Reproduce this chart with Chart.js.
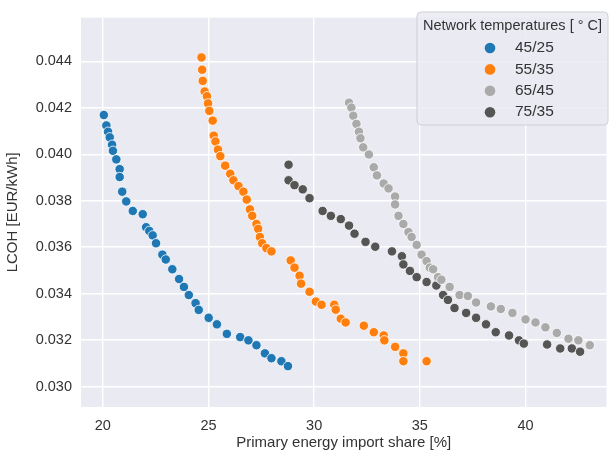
<!DOCTYPE html>
<html>
<head>
<meta charset="utf-8">
<script src="https://cdn.jsdelivr.net/npm/chart.js@4"></script>
<style>
  html, body { margin: 0; padding: 0; background: #fff; }
  #wrap { width: 612px; height: 455px; position: relative; }
</style>
</head>
<body>
<div id="wrap"><canvas id="chart"></canvas></div>
<script>
// series names (legend)
const seriesLabels = ["45/25", "55/35", "65/45", "75/35"];
const seriesColors = ["#1f77b4", "#ff7f0e", "#aaaaaa", "#555555"];

// primary energy import share [%] and LCOH [EUR/kWh]
const share_45_25 = [20.05, 20.17, 20.25, 20.33, 20.44, 20.48, 20.64, 20.80, 20.80, 20.92, 21.11, 21.42, 21.89, 22.05, 22.2, 22.36, 22.52, 22.82, 22.98, 23.29, 23.61, 23.84, 24.07, 24.39, 24.54, 25.01, 25.40, 25.87, 26.50, 26.89, 27.27, 27.67, 27.98, 28.45, 28.76];
const lcoh_45_25 = [0.04169, 0.04124, 0.04097, 0.04073, 0.04041, 0.04015, 0.03978, 0.03936, 0.03902, 0.03839, 0.03797, 0.03756, 0.03742, 0.03686, 0.0367, 0.03651, 0.03617, 0.03568, 0.03547, 0.03505, 0.03463, 0.03429, 0.03394, 0.03359, 0.03330, 0.03296, 0.03268, 0.03227, 0.03213, 0.03199, 0.03178, 0.03143, 0.03122, 0.03109, 0.03088];

const share_55_35 = [24.67, 24.70, 24.73, 24.82, 24.93, 24.98, 25.04, 25.20, 25.25, 25.33, 25.45, 25.56, 25.79, 26.03, 26.18, 26.42, 26.65, 26.81, 26.96, 27.07, 27.27, 27.35, 27.43, 27.54, 27.74, 27.98, 28.89, 29.07, 29.31, 29.38, 29.78, 30.08, 30.35, 30.95, 31.02, 31.26, 31.49, 32.35, 32.82, 33.29, 33.32, 33.83, 34.22, 34.22, 35.32];
const lcoh_55_35 = [0.04417, 0.04364, 0.04316, 0.04270, 0.04250, 0.04219, 0.04187, 0.04145, 0.04080, 0.04055, 0.04020, 0.03992, 0.03951, 0.03916, 0.03888, 0.03863, 0.03839, 0.03805, 0.03763, 0.03735, 0.03700, 0.03679, 0.03644, 0.03617, 0.03596, 0.03582, 0.03543, 0.03512, 0.03477, 0.03443, 0.03408, 0.03366, 0.03352, 0.03352, 0.03331, 0.03292, 0.03276, 0.03262, 0.03234, 0.03220, 0.03199, 0.03171, 0.03143, 0.03109, 0.03109];

const share_65_45 = [31.65, 31.76, 31.85, 32.00, 32.12, 32.19, 32.32, 32.59, 32.82, 32.97, 33.29, 33.52, 33.83, 33.83, 33.99, 34.22, 34.46, 34.61, 34.85, 35.08, 35.32, 35.47, 35.63, 35.86, 36.02, 36.41, 36.88, 37.27, 37.66, 38.36, 38.83, 39.38, 40.00, 40.47, 40.94, 41.48, 42.03, 42.50, 43.04];
const lcoh_65_45 = [0.04222, 0.04201, 0.04166, 0.04131, 0.04097, 0.04069, 0.04030, 0.03999, 0.03944, 0.03909, 0.03874, 0.03853, 0.03818, 0.03784, 0.03735, 0.03700, 0.03665, 0.03644, 0.03610, 0.03568, 0.03540, 0.03512, 0.03505, 0.03471, 0.03460, 0.03429, 0.03394, 0.03390, 0.03362, 0.03345, 0.03334, 0.03317, 0.03289, 0.03276, 0.03255, 0.03231, 0.03206, 0.03199, 0.03178];

const share_75_35 = [28.79, 28.79, 29.07, 29.46, 29.78, 30.40, 30.79, 31.26, 31.65, 31.91, 32.43, 32.89, 33.68, 34.15, 34.22, 34.53, 34.85, 35.32, 35.78, 36.10, 36.33, 36.64, 37.19, 37.66, 38.13, 38.59, 39.22, 39.69, 39.92, 41.02, 41.64, 42.19, 42.58];
const lcoh_75_35 = [0.03955, 0.03888, 0.03867, 0.03849, 0.03811, 0.03756, 0.03735, 0.03721, 0.03693, 0.03658, 0.03623, 0.03602, 0.03582, 0.03561, 0.03526, 0.03498, 0.03471, 0.03450, 0.03435, 0.03394, 0.03373, 0.03338, 0.03317, 0.03296, 0.03268, 0.03234, 0.03220, 0.03199, 0.03185, 0.03181, 0.03164, 0.03164, 0.03150];

// axis ticks
const xTicks = [20, 25, 30, 35, 40];
const yTicks = [0.030, 0.032, 0.034, 0.036, 0.038, 0.040, 0.042, 0.044];

const seriesX = [share_45_25, share_55_35, share_65_45, share_75_35];
const seriesY = [lcoh_45_25, lcoh_55_35, lcoh_65_45, lcoh_75_35];

const datasets = seriesLabels.map((label, i) => ({
  label,
  data: seriesX[i].map((x, j) => ({ x, y: seriesY[i][j] })),
  backgroundColor: seriesColors[i],
  borderColor: "#ffffff",
  borderWidth: 0.8,
  pointRadius: 4.7,
}));

const FONT = "'Liberation Sans', Arial, sans-serif";
const TEXT = "#333333";

// grey seaborn-style plot background
const plotBg = {
  id: "plotBg",
  beforeDraw(chart) {
    const { ctx, chartArea: a } = chart;
    ctx.save();
    ctx.fillStyle = "#eaeaf2";
    ctx.fillRect(a.left, a.top, a.right - a.left, a.bottom - a.top);
    ctx.restore();
  },
};

// legend in the upper right corner, inside the plot
const cornerLegend = {
  id: "cornerLegend",
  afterDraw(chart) {
    const { ctx } = chart;
    const x0 = 417, y0 = 12, w = 191, h = 113;
    ctx.save();
    ctx.beginPath();
    ctx.roundRect(x0, y0, w, h, 4);
    ctx.fillStyle = "rgba(234,234,242,0.85)";
    ctx.fill();
    ctx.strokeStyle = "#cfcfd6";
    ctx.lineWidth = 1;
    ctx.stroke();

    ctx.fillStyle = TEXT;
    ctx.font = "14.5px " + FONT;
    ctx.textAlign = "center";
    ctx.textBaseline = "middle";
    ctx.fillText("Network temperatures [ \u00b0 C]", x0 + w / 2, 26);

    chart.data.datasets.forEach((ds, i) => {
      const cy = 48 + i * 21.4;
      ctx.beginPath();
      ctx.arc(490, cy, 5.3, 0, Math.PI * 2);
      ctx.fillStyle = ds.backgroundColor;
      ctx.fill();
      ctx.fillStyle = TEXT;
      ctx.textAlign = "left";
      ctx.font = "15.5px " + FONT;
      ctx.fillText(ds.label, 515, cy);
    });
    ctx.restore();
  },
};

new Chart(document.getElementById("chart"), {
  type: "scatter",
  data: { datasets },
  options: {
    responsive: true,
    maintainAspectRatio: false,
    animation: false,
    layout: { padding: { top: 6, right: 1, left: 0, bottom: 0 } },
    plugins: {
      legend: { display: false },
      tooltip: { enabled: false },
    },
    scales: {
      x: {
        type: "linear",
        min: 18.97,
        max: 43.83,
        afterBuildTicks: (s) => { s.ticks = xTicks.map((v) => ({ value: v })); },
        afterFit: (s) => { s.height = 48; },
        grid: { color: "#ffffff", lineWidth: 1.4, drawTicks: false },
        border: { display: false },
        ticks: { color: TEXT, font: { family: FONT, size: 14.5 }, padding: 10, maxRotation: 0 },
        title: {
          display: true,
          text: "Primary energy import share [%]",
          color: TEXT,
          font: { family: FONT, size: 15 },
          padding: { top: 0, bottom: 3 },
        },
      },
      y: {
        type: "linear",
        min: 0.02912,
        max: 0.04588,
        afterBuildTicks: (s) => { s.ticks = yTicks.map((v) => ({ value: v })); },
        afterFit: (s) => { s.width = 81; },
        grid: { color: "#ffffff", lineWidth: 1.4, drawTicks: false },
        border: { display: false },
        ticks: {
          color: TEXT,
          font: { family: FONT, size: 14.5 },
          padding: 9,
          callback: (v) => v.toFixed(3),
        },
        title: {
          display: true,
          text: "LCOH [EUR/kWh]",
          color: TEXT,
          font: { family: FONT, size: 15 },
          padding: { top: 4, bottom: 0 },
        },
      },
    },
  },
  plugins: [plotBg, cornerLegend],
});
</script>
</body>
</html>
